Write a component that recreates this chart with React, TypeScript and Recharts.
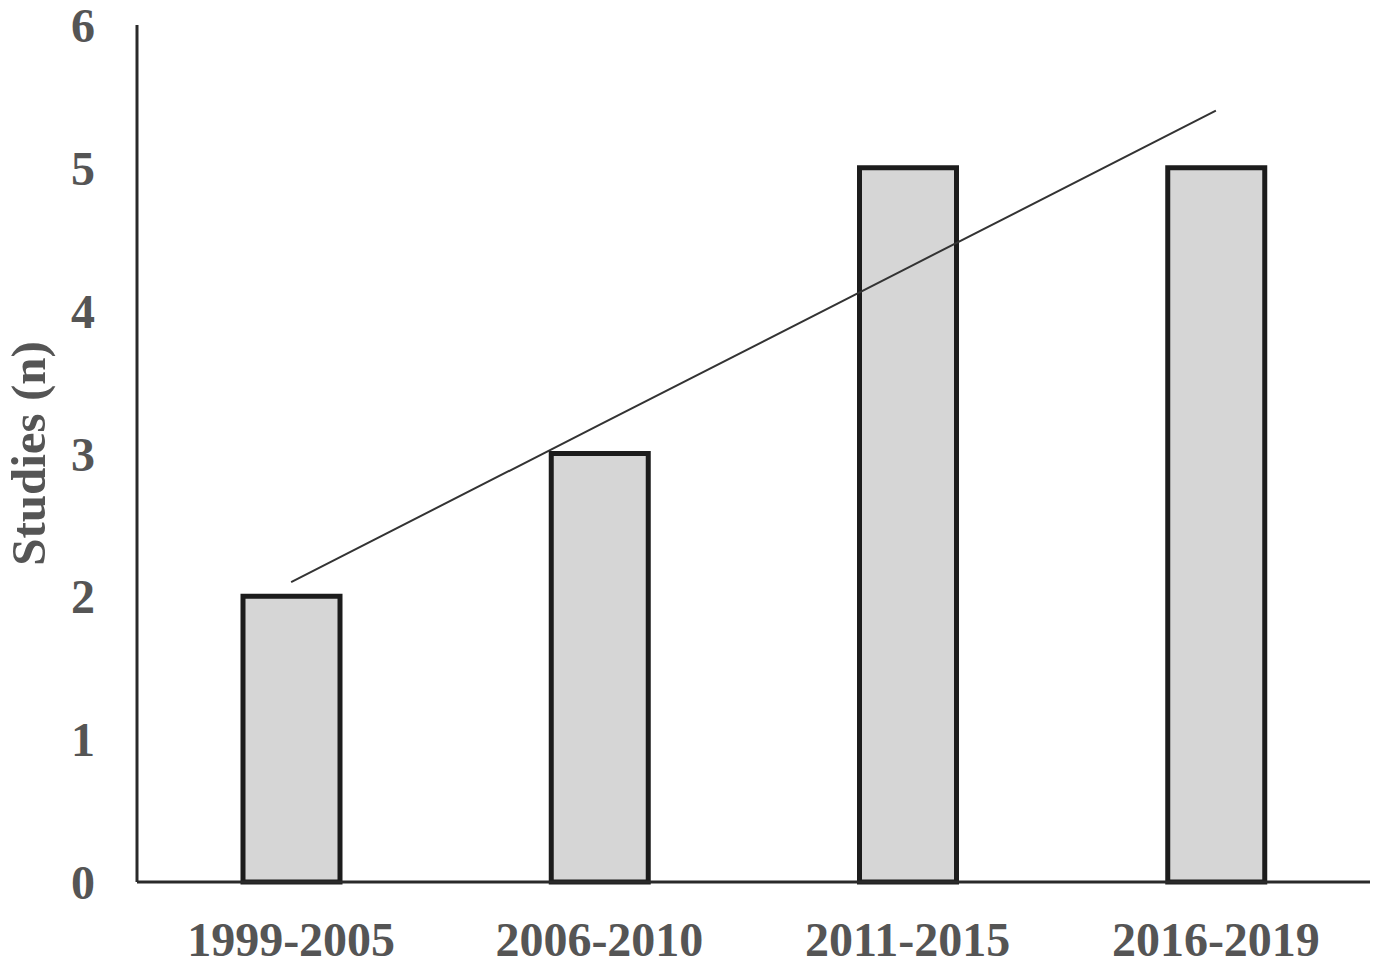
import { ComposedChart, Bar, Line, XAxis, YAxis } from "recharts";

const periods = ["1999-2005", "2006-2010", "2011-2015", "2016-2019"];
const studies = [2, 3, 5, 5];
const trend = [2.1, 3.2, 4.3, 5.4];
const yTicks = [0, 1, 2, 3, 4, 5, 6];

const data = periods.map((period, i) => ({
  period,
  studies: studies[i],
  trend: trend[i],
}));

const FONT = "'Liberation Serif', 'Times New Roman', serif";
const TEXT = "#555555";

function YTitle(props: any) {
  const vb = props.viewBox || {};
  const cx = vb.x + 28;
  const cy = vb.y + vb.height / 2;
  return (
    <text
      x={cx}
      y={cy}
      transform={`rotate(-90, ${cx}, ${cy})`}
      textAnchor="middle"
      dominantBaseline="central"
      fontFamily={FONT}
      fontWeight="bold"
      fontSize={49}
      fill={TEXT}
    >
      Studies (n)
    </text>
  );
}

export default function App() {
  return (
    <div style={{ position: "absolute", left: 0, top: 0, background: "#fff" }}>
      <ComposedChart
        width={1381}
        height={968}
        data={data}
        margin={{ top: 25, right: 11, bottom: 0, left: 0 }}
      >
        <XAxis
          dataKey="period"
          height={86}
          tickLine={false}
          tickSize={0}
          tickMargin={40}
          axisLine={{ stroke: "#2a2a2a", strokeWidth: 3 }}
          tick={{ fill: TEXT, fontFamily: FONT, fontWeight: "bold", fontSize: 48 }}
        />
        <YAxis
          width={137}
          domain={[0, 6]}
          ticks={yTicks}
          interval={0}
          tickLine={false}
          tickSize={0}
          tickMargin={42}
          axisLine={{ stroke: "#2a2a2a", strokeWidth: 3 }}
          tick={{ fill: TEXT, fontFamily: FONT, fontWeight: "bold", fontSize: 48 }}
          label={<YTitle />}
        />
        <Bar
          dataKey="studies"
          barSize={97}
          fill="#d6d6d6"
          stroke="#1c1c1c"
          strokeWidth={5}
          isAnimationActive={false}
        />
        <Line
          dataKey="trend"
          type="linear"
          stroke="#333333"
          strokeWidth={2}
          dot={false}
          activeDot={false}
          isAnimationActive={false}
        />
      </ComposedChart>
    </div>
  );
}
